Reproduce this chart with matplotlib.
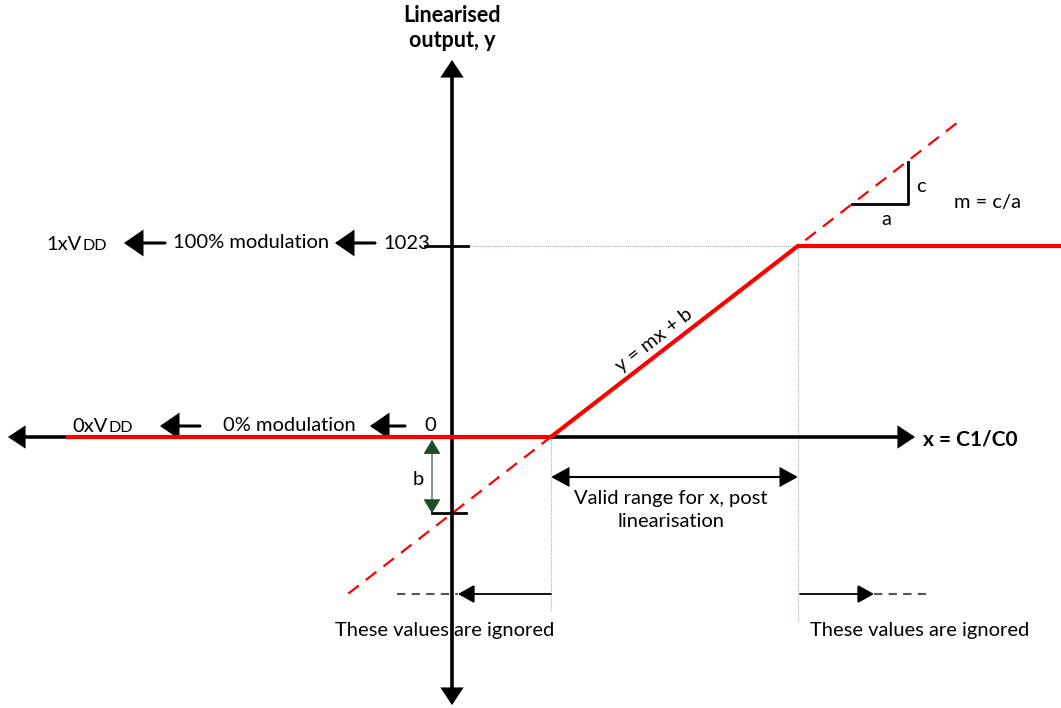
import matplotlib
matplotlib.use("Agg")
import matplotlib.pyplot as plt
import numpy as np

# ---- data (transfer characteristic) ----
x_knees = [1.0, 3.5]            # valid range for x = C1/C0 (arbitrary units)
y_levels = [0, 1023]            # linearised output codes
x_left_end = -3.89              # where the drawn output starts on the left
x_right_end = 6.2               # output continues to the right edge
x_dash = [-1.05, 5.15]          # extent of the dashed y = mx + b extension

m = (y_levels[1] - y_levels[0]) / (x_knees[1] - x_knees[0])
b = y_levels[0] - m * x_knees[0]

# ---- layout: pixel mapping ----
W, H = 1061, 708
OX, OY = 452, 437               # pixel origin
SX = 98.8                        # px per x unit
SY = 191 / 1023                  # px per y code

def P(xp, yp):
    """pixel -> data"""
    return (xp - OX) / SX, (OY - yp) / SY

fig = plt.figure(figsize=(W / 100, H / 100), dpi=100)
ax = fig.add_axes([0, 0, 1, 1])
x0, y0 = P(0, H)
x1, y1 = P(W, 0)
ax.set_xlim(x0, x1)
ax.set_ylim(y0, y1)
ax.axis("off")

plt.rcParams['font.family'] = ['Lato', 'DejaVu Sans']
FS = 14.5
RED = "#ff0000"
GUIDE = "#9fb8b0"
DKGREEN = "#1f4d2a"

def arrow(p_from, p_to, color="black", lw=2.4, hl=0.5, hw=0.28, ms=20, ls="-", both=False):
    style = f"<|-|>,head_length={hl},head_width={hw}" if both else f"-|>,head_length={hl},head_width={hw}"
    ax.annotate("", xy=P(*p_to), xytext=P(*p_from),
                arrowprops=dict(arrowstyle=style, color=color, lw=lw, mutation_scale=ms,
                                shrinkA=0, shrinkB=0, linestyle=ls, joinstyle="miter"))

def T(xp, yp, s, **kw):
    kw.setdefault("fontsize", FS)
    ax.text(*P(xp, yp), s, **kw)

# guide lines (thin dotted)
ax.plot([0, x_knees[1]], [y_levels[1], y_levels[1]], color=GUIDE, lw=0.8, ls=(0, (1, 1)))
ax.plot([x_knees[0], x_knees[0]], [y_levels[0], P(0, 612)[1]], color=GUIDE, lw=0.8, ls=(0, (1, 1)))
ax.plot([x_knees[1], x_knees[1]], [y_levels[1], P(0, 622)[1]], color=GUIDE, lw=0.8, ls=(0, (1, 1)))

# dashed extension y = mx + b
xd = np.array(x_dash)
ax.plot(xd, m * xd + b, color=RED, lw=1.6, ls=(0, (6, 4)), zorder=3)

# axes arrows
arrow((452, 437), (8, 437), lw=2.6, hl=0.45, hw=0.3)
arrow((452, 437), (915, 437), lw=2.6, hl=0.45, hw=0.3)
arrow((452, 437), (452, 60), lw=2.6, hl=0.45, hw=0.3)
arrow((452, 437), (452, 705), lw=2.6, hl=0.45, hw=0.3)

# output characteristic
xs = [x_left_end, x_knees[0], x_knees[1], x_right_end]
ys = [y_levels[0], y_levels[0], y_levels[1], y_levels[1]]
ax.plot(xs, ys, color=RED, lw=3.0, solid_joinstyle="miter", zorder=4)

# ticks
ax.plot([P(425, 0)[0], P(468, 0)[0]], [y_levels[1]] * 2, color="black", lw=2.0)
ax.plot([P(432, 0)[0], P(466, 0)[0]], [b, b], color="black", lw=2.0)

# b marker (dark green double arrow)
ax.annotate("", xy=(P(432, 0)[0], b), xytext=(P(432, 0)[0], 0),
            arrowprops=dict(arrowstyle="<|-|>,head_length=0.5,head_width=0.3", color=DKGREEN,
                            lw=0.8, mutation_scale=18, shrinkA=2, shrinkB=0))
T(418, 480, "b", ha="center", va="center")

# valid range
arrow((551, 477), (798, 477), lw=1.5, hl=0.55, hw=0.3, both=True)
T(671, 510, "Valid range for x, post\nlinearisation", ha="center", va="center", linespacing=1.45)

# slope triangle
ax.plot(*zip(P(852, 204), P(908, 204), P(908, 162)), color="black", lw=2.0)
T(921, 186, "c", ha="center", va="center")
T(886, 220, "a", ha="center", va="center")
T(988, 203, "m = c/a", ha="center", va="center")

# y = mx + b label
ang = np.degrees(np.arctan(191 / 247))
T(654, 340, "y = mx + b", ha="center", va="center", rotation=ang, rotation_mode="anchor")

# ignored regions
ax.plot(*zip(P(397, 594), P(458, 594)), color="#555555", lw=1.5, ls=(0, (4, 3)))
arrow((551, 594), (458, 594), lw=1.3, hl=0.5, hw=0.28)
T(445, 631, "These values are ignored", ha="center", va="center")
arrow((800, 594), (874, 594), lw=1.3, hl=0.5, hw=0.28)
ax.plot(*zip(P(874, 594), P(932, 594)), color="#555555", lw=1.5, ls=(0, (4, 3)))
T(920, 631, "These values are ignored", ha="center", va="center")

# left annotations, 100 %
T(82, 250, "1xV", ha="right", va="baseline")
T(82, 250, "DD", ha="left", va="baseline", fontsize=11.5)
arrow((165, 243), (124, 243), lw=2.2, hl=0.55, hw=0.38)
T(251, 242, "100% modulation", ha="center", va="center")
arrow((375, 243), (335, 243), lw=2.2, hl=0.55, hw=0.38)
T(407, 244, "1023", ha="center", va="center")

# left annotations, 0 %
T(108, 432, "0xV", ha="right", va="baseline")
T(108, 432, "DD", ha="left", va="baseline", fontsize=11.5)
arrow((200, 426), (160, 426), lw=2.2, hl=0.55, hw=0.38)
T(289, 426, "0% modulation", ha="center", va="center")
arrow((405, 426), (370, 426), lw=2.2, hl=0.55, hw=0.38)
T(430, 426, "0", ha="center", va="center")

# axis titles
T(452, 28, "Linearised\noutput, y", ha="center", va="center", fontweight="bold",
  linespacing=1.25, fontsize=15.5)
T(970, 440, "x = C1/C0", ha="center", va="center", fontweight="bold", fontsize=15)

fig.savefig("out.png", dpi=100)
